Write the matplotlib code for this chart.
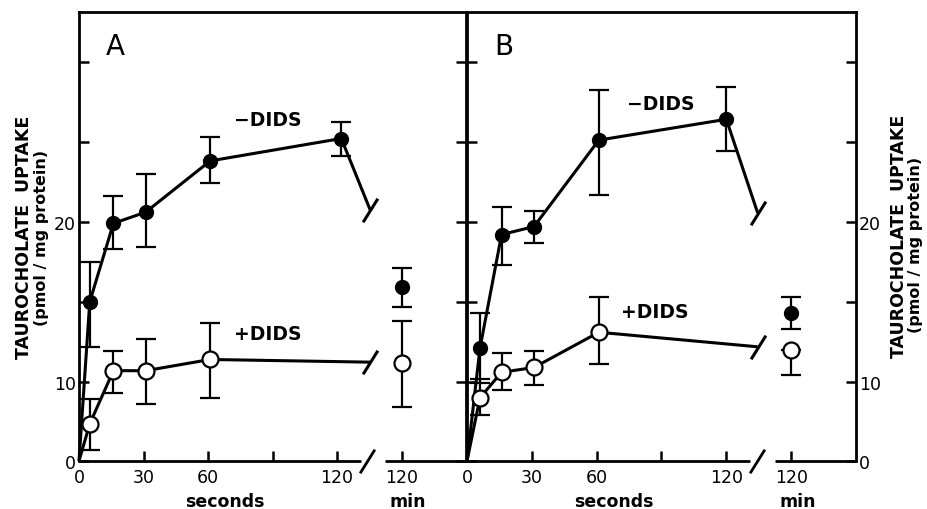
import numpy as np
import matplotlib
matplotlib.use('Agg')
import matplotlib.pyplot as plt
from matplotlib.path import Path
from matplotlib.transforms import blended_transform_factory

# time points (seconds)
t_A = [5, 16, 31, 61, 122]
t_B = [6, 16, 31, 61, 120]
t_min = 150          # where the "120 min" point sits after the axis break

# panel A
minus_A = [15.0, 19.9, 20.6, 23.8, 25.2]
minus_A_hi = [17.5, 21.6, 23.0, 25.3, 26.2]
minus_A_lo = [12.2, 18.3, 18.4, 22.4, 24.1]
plus_A = [4.7, 10.7, 10.7, 11.4]
plus_A_hi = [7.8, 11.9, 12.7, 13.7]
plus_A_lo = [1.4, 8.6, 7.2, 8.0]
min120_A = [15.9, 11.2]        # -DIDS, +DIDS
min120_A_hi = [17.1, 13.8]
min120_A_lo = [14.7, 6.8]

# panel B
minus_B = [12.1, 19.2, 19.7, 25.1, 26.4]
minus_B_hi = [14.3, 20.9, 20.7, 28.2, 28.4]
minus_B_lo = [9.8, 17.3, 18.7, 21.7, 24.4]
plus_B = [8.0, 10.6, 10.9, 13.1]
plus_B_hi = [10.2, 11.8, 11.9, 15.3]
plus_B_lo = [5.8, 9.0, 9.6, 11.1]
min120_B = [14.3, 12.0]
min120_B_hi = [15.3, 12.0]
min120_B_lo = [13.3, 10.4]

# the original axis is squeezed between 0 and 10
k = 0.494
def fwd(y):
    y = np.asarray(y, dtype=float)
    return np.where(y >= 10, y, 10 - (10 - y) * k)
def inv(u):
    u = np.asarray(u, dtype=float)
    return np.where(u >= 10, u, 10 - (10 - u) / k)

slash = Path([(-0.5, -0.8), (0.5, 0.8)], [Path.MOVETO, Path.LINETO])

def cut_end(t_last, y_last, y_min, t_cut):
    return y_last + (y_min - y_last) * (t_cut - t_last) / (t_min - t_last)

def draw_panel(ax, t, minus, minus_hi, minus_lo, plus, plus_hi, plus_lo,
               mins, mins_hi, mins_lo, t_cut, letter, lab_minus, lab_plus):
    ax.set_yscale('function', functions=(fwd, inv))
    ax.set_xlim(0, 180)
    ax.set_ylim(0, 33.1)

    tp = t[:len(plus)]
    ax.errorbar(t, minus, yerr=[np.array(minus) - minus_lo, np.array(minus_hi) - minus],
                fmt='none', ecolor='black', elinewidth=1.6, capsize=7, capthick=1.6, zorder=2)
    ax.errorbar(tp, plus, yerr=[np.array(plus) - plus_lo, np.array(plus_hi) - plus],
                fmt='none', ecolor='black', elinewidth=1.6, capsize=7, capthick=1.6, zorder=2)
    ax.errorbar([t_min, t_min], mins, yerr=[np.array(mins) - mins_lo, np.array(mins_hi) - mins],
                fmt='none', ecolor='black', elinewidth=1.6, capsize=7, capthick=1.6, zorder=2)

    # lines head towards the 120 min value and stop at the break
    ym = cut_end(t[-1], minus[-1], mins[0], t_cut)
    yp = cut_end(tp[-1], plus[-1], mins[1], t_cut)
    ax.plot([0] + t + [t_cut], [0] + minus + [ym], color='black', lw=2.2, zorder=3,
            solid_capstyle='butt', clip_on=False)
    ax.plot([0] + tp + [t_cut], [0] + plus + [yp], color='black', lw=2.2, zorder=3,
            solid_capstyle='butt', clip_on=False)
    ax.plot([t_cut, t_cut], [ym, yp], ls='none', marker=slash, ms=17, mew=2.2,
            mec='black', zorder=3)

    ax.plot(t, minus, 'o', ms=10, mfc='black', mec='black', zorder=4)
    ax.plot(tp, plus, 'o', ms=11.5, mfc='white', mec='black', mew=1.6, zorder=4)
    ax.plot([t_min], [mins[0]], 'o', ms=10, mfc='black', mec='black', zorder=4)
    ax.plot([t_min], [mins[1]], 'o', ms=11.5, mfc='white', mec='black', mew=1.6, zorder=4)

    # broken bottom axis
    ax.spines['bottom'].set_visible(False)
    for s in ['left', 'right', 'top']:
        ax.spines[s].set_linewidth(2.0)
    ax.plot([0, 131], [0, 0], color='black', lw=2.0, clip_on=False, zorder=5,
            solid_capstyle='butt')
    ax.plot([142.5, 180], [0, 0], color='black', lw=2.0, clip_on=False, zorder=5,
            solid_capstyle='butt')
    ax.plot([134], [0], ls='none', marker=slash, ms=17, mew=2.0, mec='black',
            clip_on=False, zorder=5)

    ax.set_xticks([0, 30, 60, 90, 120, 150])
    ax.set_xticklabels(['0', '30', '60', '', '120', '120'])
    ax.set_yticks([0, 10, 15, 20, 25, 30])
    ax.set_yticklabels(['0', '10', '', '20', '', ''])
    ax.tick_params(axis='both', direction='in', length=7, width=1.8, labelsize=12.5)
    ax.tick_params(axis='x', pad=5)
    ax.tick_params(axis='y', left=True, right=True, pad=2)

    tr = blended_transform_factory(ax.transData, ax.transAxes)
    ax.text(68, -0.09, 'seconds', transform=tr, ha='center', va='center',
            fontsize=12.5, fontweight='bold')
    ax.text(153, -0.09, 'min', transform=tr, ha='center', va='center',
            fontsize=12.5, fontweight='bold')
    ax.text(0.094, 0.925, letter, transform=ax.transAxes, ha='center', va='center', fontsize=20)
    ax.text(lab_minus[0], lab_minus[1], '\u2212DIDS', ha='center', va='center',
            fontsize=13.5, fontweight='bold')
    ax.text(lab_plus[0], lab_plus[1], '+DIDS', ha='center', va='center',
            fontsize=13.5, fontweight='bold')


fig = plt.figure(figsize=(9.28, 5.10), dpi=100)
axA = fig.add_axes([79 / 928, 48 / 510, 387 / 928, 449 / 510])
axB = fig.add_axes([467 / 928, 48 / 510, 389 / 928, 449 / 510])

draw_panel(axA, t_A, minus_A, minus_A_hi, minus_A_lo, plus_A, plus_A_hi, plus_A_lo,
           min120_A, min120_A_hi, min120_A_lo, 135.5, 'A', (88, 26.4), (88, 13.0))
draw_panel(axB, t_B, minus_B, minus_B_hi, minus_B_lo, plus_B, plus_B_hi, plus_B_lo,
           min120_B, min120_B_hi, min120_B_lo, 134.5, 'B', (89.5, 27.4), (87, 14.4))

axA.tick_params(axis='y', labelleft=True, labelright=False)
axB.tick_params(axis='y', labelleft=False, labelright=True)

fig.text(24 / 928, 1 - 237 / 510, 'TAUROCHOLATE  UPTAKE', rotation=90, ha='center',
         va='center', fontsize=12.5, fontweight='bold')
fig.text(42 / 928, 1 - 238 / 510, '(pmol / mg protein)', rotation=90, ha='center',
         va='center', fontsize=11.5, fontweight='bold')
fig.text(899 / 928, 1 - 236 / 510, 'TAUROCHOLATE  UPTAKE', rotation=90, ha='center',
         va='center', fontsize=12.5, fontweight='bold')
fig.text(916 / 928, 1 - 245 / 510, '(pmol / mg protein)', rotation=90, ha='center',
         va='center', fontsize=11.5, fontweight='bold')

fig.savefig('out.png', dpi=100)
